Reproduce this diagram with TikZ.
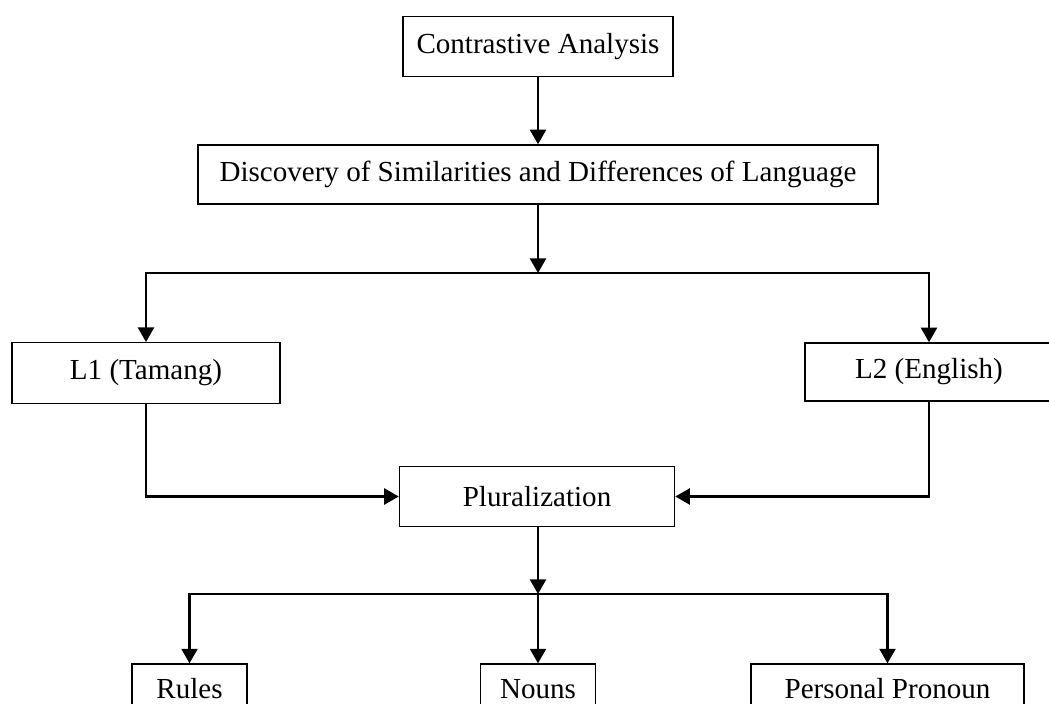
\documentclass[tikz,border=0pt]{standalone}
\usepackage{fontspec}
\setmainfont{Liberation Serif}
\usepackage{tikz}
\usetikzlibrary{positioning,calc,arrows.meta}

\begin{document}
\begin{tikzpicture}[x=0.413pt,y=-0.413pt,
                box/.style={draw,line width=0.6pt,inner sep=0pt,font=\fontsize{12}{14}\selectfont,
                            minimum height=25pt},
                leaf/.style={box,minimum height=20.6pt},
                link/.style={line width=0.9pt,-{Triangle[length=6pt,width=6.6pt]}}
            ]
                \path[use as bounding box,clip] (0,0) rectangle (1049,704);
                % boxes
                \node[box,minimum width=111.5pt] (ca) at (538,46.5) {Contrastive Analysis};
                \node[box,minimum width=281pt,minimum height=24.4pt] (disc) at (538,174.5) {Discovery of Similarities and Differences of Language};
                \node[box,minimum width=110.7pt] (l1) at (146,373) {L1 (Tamang)};
                \node[box,minimum width=102.4pt,minimum height=24pt] (l2) at (929,372) {L2 (English)};
                \node[box,minimum width=113.6pt] (plur) at (537,496.5) {Pluralization};
                \node[leaf,minimum width=47.5pt] (rules) at (189.5,689) {Rules};
                \node[leaf,minimum width=47.5pt] (nouns) at (538,689) {Nouns};
                \node[leaf,minimum width=112.7pt] (pp) at (887.5,689) {Personal Pronoun};
                % junctions
                \coordinate (split1) at (538,273);
                \coordinate (split2) at (538,594);
                % connectors
                \draw[link] (ca) -- (disc);
                \draw[link] (disc) -- (split1);
                \draw[link] (split1) -| (l1);
                \draw[link] (split1) -| (l2);
                \draw[link] (l1) |- (plur);
                \draw[link] (l2) |- (plur);
                \draw[link] (plur.south -| split2) -- (split2);
                \draw[link] (split2) -| (rules);
                \draw[link] (split2) -- (nouns);
                \draw[link] (split2) -| (pp);
            \end{tikzpicture}
\end{document}
